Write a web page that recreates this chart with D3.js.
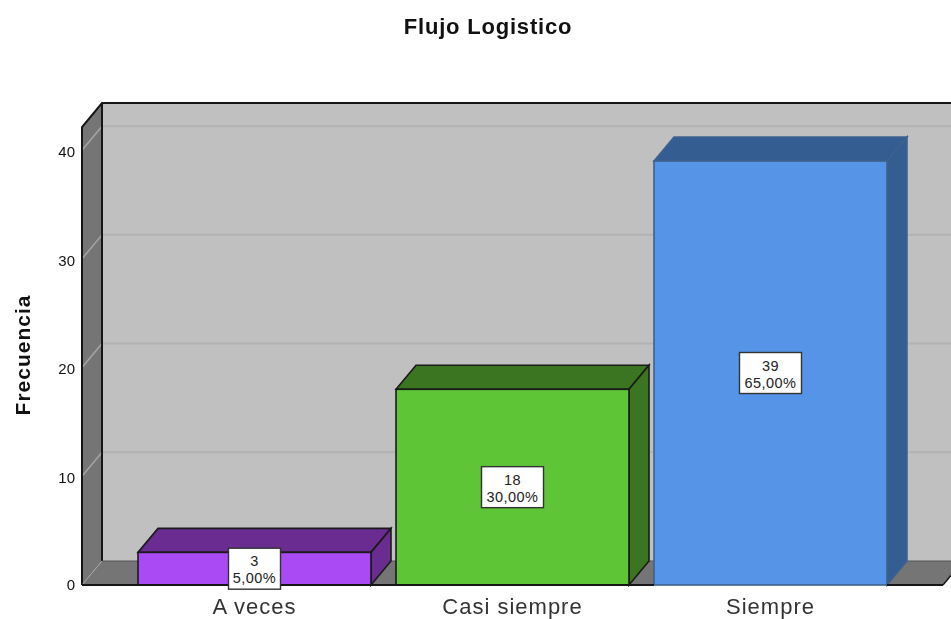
<!DOCTYPE html>
<html>
<head>
<meta charset="utf-8">
<script src="https://cdn.jsdelivr.net/npm/d3@7"></script>
<style>
html, body { margin: 0; padding: 0; background: #fff; overflow: hidden; }
svg { display: block; font-family: "Liberation Sans", Arial, sans-serif; filter: blur(0.35px); }
</style>
</head>
<body>
<script>
var categories = ["A veces", "Casi siempre", "Siempre"]
var frecuencia = [3, 18, 39]
var porcentajes = ["5,00%", "30,00%", "65,00%"]
var yTicks = [0, 10, 20, 30, 40]
var frontColors = ["#A94AF5", "#5EC537", "#5594E6"]
var depthColors = ["#6A2C91", "#3C7521", "#345D91"]
var strokeColors = ["#1a1a1a", "#1a1a1a", "#3f618f"]

var width = 951, height = 619
var dx = 20, dy = -24            // 3d depth offset
var floorY = 585, left = 82, right = 943

var svg = d3.select("body").append("svg")
    .attr("width", width).attr("height", height)

var yScale = d3.scaleLinear().domain([0, 42.13]).range([floorY, 127])
var xScale = d3.scaleBand().domain(categories)
    .range([125.5, 899.5])
    .paddingInner(0.097).paddingOuter(0.0485)

var topY = yScale(42.13)

function poly(pts) { return pts.map(function(p) { return p.join(",") }).join(" ") }

// back wall, left wall, floor
svg.append("rect")
    .attr("x", left + dx).attr("y", topY + dy)
    .attr("width", width - left).attr("height", floorY - topY)
    .attr("fill", "#C0C0C0")
svg.append("polygon")
    .attr("points", poly([[left, floorY], [left, topY], [left + dx, topY + dy], [left + dx, floorY + dy]]))
    .attr("fill", "#757575")
svg.append("polygon")
    .attr("points", poly([[left, floorY], [left + dx, floorY + dy], [right + dx, floorY + dy], [right, floorY]]))
    .attr("fill", "#757575")

// gridlines on the walls
var grid = svg.append("g")
grid.selectAll("line.back").data(yTicks.slice(1)).enter().append("line")
    .attr("x1", left + dx).attr("x2", width)
    .attr("y1", function(d) { return yScale(d) + dy })
    .attr("y2", function(d) { return yScale(d) + dy })
    .attr("stroke", "#B2B2B2").attr("stroke-width", 2)
grid.selectAll("line.side").data(yTicks.slice(1)).enter().append("line")
    .attr("x1", left).attr("x2", left + dx)
    .attr("y1", function(d) { return yScale(d) })
    .attr("y2", function(d) { return yScale(d) + dy })
    .attr("stroke", "#A5A5A5").attr("stroke-width", 1.5)

// wall outlines
var outline = "#161616"
svg.append("path")
    .attr("d", "M" + left + "," + floorY + "V" + topY + "L" + (left + dx) + "," + (topY + dy) + "H" + width)
    .attr("fill", "none").attr("stroke", outline).attr("stroke-width", 2)
svg.append("line")
    .attr("x1", left + dx).attr("x2", left + dx)
    .attr("y1", topY + dy).attr("y2", floorY + dy)
    .attr("stroke", outline).attr("stroke-width", 2)
svg.append("line")
    .attr("x1", left + dx).attr("x2", width)
    .attr("y1", floorY + dy).attr("y2", floorY + dy)
    .attr("stroke", "#555").attr("stroke-width", 1)
svg.append("line")
    .attr("x1", left).attr("y1", floorY)
    .attr("x2", left + dx).attr("y2", floorY + dy)
    .attr("stroke", "#A5A5A5").attr("stroke-width", 1)
svg.append("line")
    .attr("x1", right).attr("y1", floorY)
    .attr("x2", right + dx).attr("y2", floorY + dy)
    .attr("stroke", outline).attr("stroke-width", 1.5)

// bars
var bars = svg.append("g").selectAll("g").data(categories).enter().append("g")
var bw = xScale.bandwidth()
var sw = 1.6

bars.append("polygon")
    .attr("points", function(d, i) {
        var x = xScale(d), y = yScale(frecuencia[i])
        return poly([[x, y], [x + dx, y + dy], [x + bw + dx, y + dy], [x + bw, y]])
    })
    .attr("fill", function(d, i) { return depthColors[i] })
    .attr("stroke", function(d, i) { return strokeColors[i] }).attr("stroke-width", sw)
bars.append("polygon")
    .attr("points", function(d, i) {
        var x = xScale(d) + bw, y = yScale(frecuencia[i])
        return poly([[x, y], [x + dx, y + dy], [x + dx, floorY + dy], [x, floorY]])
    })
    .attr("fill", function(d, i) { return depthColors[i] })
    .attr("stroke", function(d, i) { return strokeColors[i] }).attr("stroke-width", sw)
bars.append("rect")
    .attr("x", function(d) { return xScale(d) })
    .attr("y", function(d, i) { return yScale(frecuencia[i]) })
    .attr("width", bw)
    .attr("height", function(d, i) { return floorY - yScale(frecuencia[i]) })
    .attr("fill", function(d, i) { return frontColors[i] })
    .attr("stroke", function(d, i) { return strokeColors[i] }).attr("stroke-width", sw)

// floor edge on top of the bars
svg.append("line")
    .attr("x1", left).attr("x2", xScale(categories[2]))
    .attr("y1", floorY).attr("y2", floorY)
    .attr("stroke", outline).attr("stroke-width", 2)
svg.append("line")
    .attr("x1", xScale(categories[2]) + bw).attr("x2", right)
    .attr("y1", floorY).attr("y2", floorY)
    .attr("stroke", outline).attr("stroke-width", 2)

// axes
var yAxis = d3.axisLeft(yScale).tickValues(yTicks).tickSize(0).tickPadding(7)
var yG = svg.append("g").attr("transform", "translate(" + left + ",0)").call(yAxis)
yG.select(".domain").remove()
yG.selectAll("text").style("font-size", "15px").style("font-family", "inherit").attr("fill", "#111")
    .attr("dy", function(d) { return d == 0 ? "0.32em" : "0.42em" })

var xAxis = d3.axisBottom(xScale).tickSize(0).tickPadding(13)
var xG = svg.append("g").attr("transform", "translate(0," + floorY + ")").call(xAxis)
xG.select(".domain").remove()
xG.selectAll("text").style("font-size", "22px").style("font-family", "inherit")
    .style("letter-spacing", "1px").attr("fill", "#333")

// value labels
var labels = svg.append("g").selectAll("g").data(categories).enter().append("g")
    .attr("transform", function(d, i) {
        return "translate(" + (xScale(d) + bw / 2) + "," + ((yScale(frecuencia[i]) + floorY) / 2) + ")"
    })
labels.append("rect")
    .attr("x", function(d, i) { return i == 0 ? -26 : -31 }).attr("y", -20.5)
    .attr("width", function(d, i) { return i == 0 ? 52 : 62 }).attr("height", 41)
    .attr("fill", "#fff").attr("stroke", "#333").attr("stroke-width", 1.4)
labels.append("text")
    .attr("text-anchor", "middle").attr("y", -2.5)
    .style("font-size", "14.5px").style("letter-spacing", "0.45px").attr("fill", "#222")
    .text(function(d, i) { return frecuencia[i] })
labels.append("text")
    .attr("text-anchor", "middle").attr("y", 14.5)
    .style("font-size", "14.5px").style("letter-spacing", "0.45px").attr("fill", "#222")
    .text(function(d, i) { return porcentajes[i] })

// titles
svg.append("text").attr("x", 488).attr("y", 34)
    .attr("text-anchor", "middle")
    .style("font-size", "22px").style("font-weight", "bold").style("letter-spacing", "0.8px").attr("fill", "#111")
    .text("Flujo Logistico")
svg.append("text")
    .attr("transform", "translate(29.5,355) rotate(-90)")
    .attr("text-anchor", "middle")
    .style("font-size", "21px").style("font-weight", "bold").style("letter-spacing", "1px").attr("fill", "#111")
    .text("Frecuencia")
</script>
</body>
</html>
